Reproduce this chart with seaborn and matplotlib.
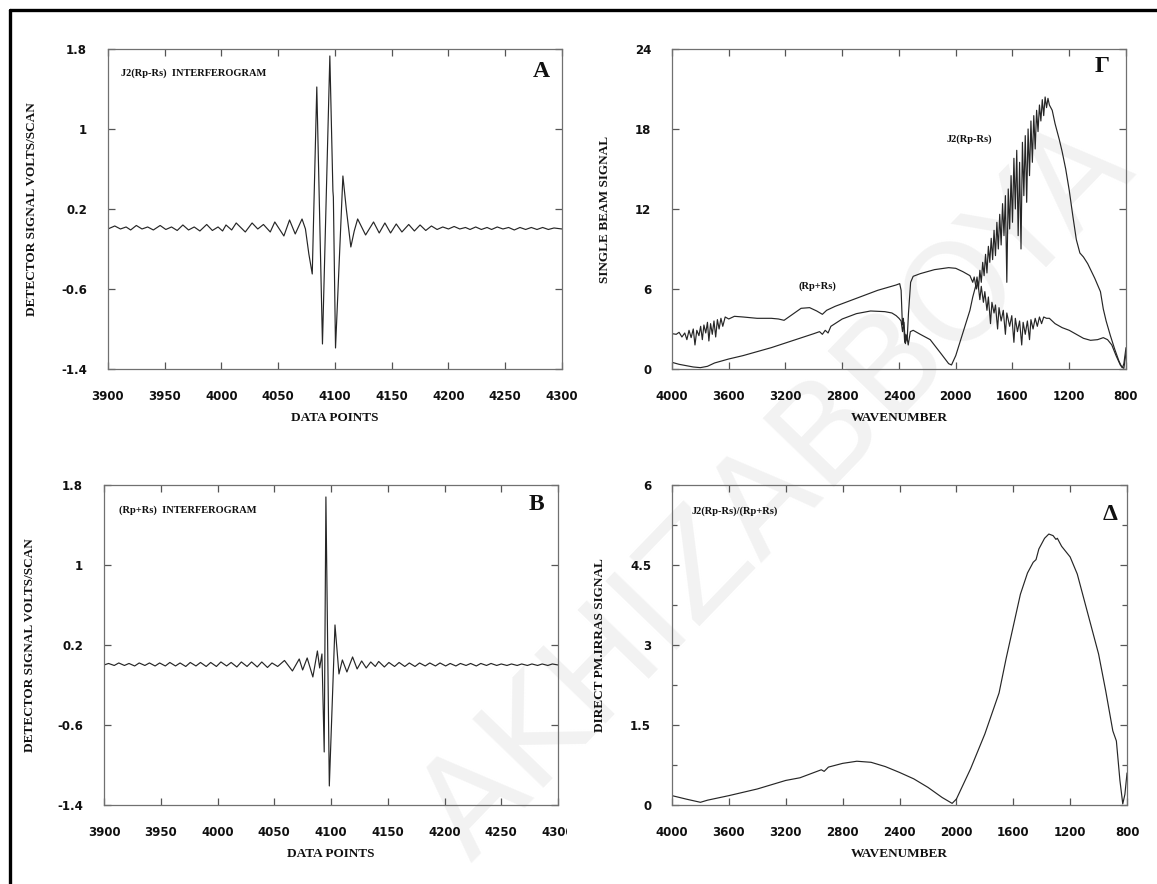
#!/usr/bin/env python3

import matplotlib
matplotlib.use("Agg")
from matplotlib import pyplot as plt
from matplotlib.lines import Line2D
from matplotlib.transforms import Bbox
import pandas as pd
import seaborn as sns


# Panel A: J2(Rp-Rs) interferogram
a_points = [
    3900, 3906, 3911, 3916, 3920, 3925, 3930, 3935, 3940, 3946, 3951, 3956,
    3961, 3966, 3971, 3976, 3981, 3987, 3992, 3997, 4001, 4004, 4009, 4013,
    4021, 4027, 4032, 4037, 4043, 4047, 4055, 4060, 4065, 4071, 4074, 4077,
    4080, 4084, 4089, 4095.5, 4098.2, 4098.6, 4100.5, 4107, 4110, 4114, 4117,
    4120, 4127, 4134, 4139, 4144, 4149, 4154, 4159, 4165, 4170, 4175, 4180,
    4185, 4190, 4195, 4200, 4205, 4210, 4215, 4219, 4224, 4229, 4234, 4238,
    4243, 4248, 4253, 4258, 4263, 4268, 4273, 4278, 4283, 4288, 4293, 4300,
]
a_signal = [
    0.00, 0.03, 0.00, 0.02, -0.01, 0.035, 0.00, 0.02, -0.01, 0.035, -0.005,
    0.02, -0.015, 0.04, -0.01, 0.02, -0.02, 0.045, -0.015, 0.02, -0.02, 0.04,
    -0.01, 0.06, -0.03, 0.06, 0.00, 0.045, -0.03, 0.07, -0.07, 0.09, -0.05,
    0.10, 0.00, -0.25, -0.45, 1.42, -1.15, 1.73, 0.38, 0.32, -1.19, 0.53, 0.20,
    -0.18, -0.02, 0.10, -0.06, 0.07, -0.04, 0.06, -0.04, 0.05, -0.03, 0.045,
    -0.02, 0.04, -0.015, 0.03, -0.005, 0.02, 0.00, 0.025, 0.00, 0.015, -0.005,
    0.02, -0.005, 0.015, -0.005, 0.02, 0.00, 0.015, -0.01, 0.015, -0.005,
    0.015, -0.005, 0.015, -0.005, 0.01, 0.00,
]

# Panel B: (Rp+Rs) interferogram
b_points = [
    3900, 3904, 3909, 3913, 3918, 3922, 3927, 3931, 3936, 3940, 3945, 3949,
    3954, 3958, 3963, 3967, 3972, 3976, 3981, 3985, 3990, 3994, 3999, 4003,
    4008, 4012, 4017, 4021, 4026, 4030, 4035, 4039, 4044, 4048, 4053, 4059,
    4066, 4072, 4075, 4079, 4084, 4088, 4090, 4092, 4094, 4095.5, 4098.5,
    4103.5, 4107, 4110, 4114, 4119, 4123, 4127, 4131, 4135, 4139, 4142, 4147,
    4151, 4156, 4160, 4165, 4169, 4174, 4178, 4183, 4187, 4192, 4196, 4201,
    4205, 4210, 4214, 4219, 4223, 4228, 4232, 4237, 4241, 4246, 4250, 4255,
    4259, 4264, 4268, 4273, 4277, 4282, 4286, 4291, 4295, 4300,
]
b_signal = [
    0.00, 0.015, -0.005, 0.02, -0.005, 0.015, -0.01, 0.02, -0.005, 0.02,
    -0.01, 0.02, -0.01, 0.025, -0.01, 0.02, -0.015, 0.025, -0.01, 0.025,
    -0.015, 0.025, -0.015, 0.03, -0.01, 0.025, -0.02, 0.03, -0.015, 0.03,
    -0.02, 0.03, -0.025, 0.02, -0.015, 0.045, -0.06, 0.06, -0.05, 0.07, -0.12,
    0.14, -0.03, 0.11, -0.87, 1.68, -1.21, 0.40, -0.09, 0.05, -0.07, 0.08,
    -0.04, 0.04, -0.03, 0.03, -0.015, 0.035, -0.02, 0.025, -0.015, 0.025,
    -0.015, 0.02, -0.015, 0.02, -0.01, 0.02, -0.01, 0.02, -0.01, 0.015, -0.01,
    0.015, -0.005, 0.015, -0.01, 0.015, -0.005, 0.015, -0.005, 0.01, -0.005,
    0.01, -0.005, 0.01, -0.005, 0.01, -0.005, 0.01, -0.005, 0.01, 0.00,
]

# Panel Gamma: (Rp+Rs) single beam spectrum
g_sum_wn = [
    4000, 3970, 3950, 3930, 3910, 3895, 3880, 3865, 3850, 3838, 3825, 3810,
    3798, 3786, 3775, 3762, 3750, 3740, 3728, 3716, 3704, 3692, 3680, 3668,
    3655, 3642, 3625, 3600, 3560, 3500, 3400, 3300, 3250, 3210, 3150, 3090,
    3030, 2980, 2940, 2910, 2850, 2700, 2550, 2420, 2395, 2385, 2376, 2369,
    2360, 2352, 2343, 2333, 2318, 2300, 2250, 2150, 2050, 2000, 1950, 1900,
    1880, 1870, 1855, 1845, 1830, 1820, 1805, 1795, 1780, 1770, 1755, 1745,
    1730, 1720, 1705, 1695, 1680, 1665, 1650, 1640, 1620, 1605, 1590, 1580,
    1565, 1550, 1535, 1525, 1510, 1495, 1480, 1470, 1455, 1440, 1425, 1410,
    1395, 1380, 1360, 1340, 1300, 1250, 1200, 1150, 1100, 1050, 1000, 960,
    930, 900, 870, 840, 825, 815, 800,
]
g_sum_val = [
    2.65, 2.6, 2.75, 2.4, 2.7, 2.2, 2.9, 2.35, 3.0, 1.8, 2.9, 2.5, 3.2, 2.2,
    3.3, 2.7, 3.5, 2.1, 3.4, 2.6, 3.6, 2.4, 3.7, 3.0, 3.8, 3.2, 3.9, 3.75,
    3.95, 3.9, 3.8, 3.8, 3.75, 3.65, 4.1, 4.55, 4.6, 4.35, 4.1, 4.4, 4.7, 5.3,
    5.9, 6.3, 6.4, 5.9, 3.3, 3.8, 2.0, 2.6, 2.1, 4.2, 6.5, 6.95, 7.15, 7.45,
    7.6, 7.55, 7.3, 7.0, 6.5, 6.9, 6.0, 6.6, 5.2, 6.2, 5.0, 5.8, 4.4, 5.4,
    3.4, 5.0, 4.2, 4.8, 3.0, 4.6, 3.6, 4.4, 2.6, 4.2, 3.2, 4.0, 2.0, 3.8, 2.8,
    3.6, 1.8, 3.5, 2.6, 3.6, 2.2, 3.7, 3.0, 3.8, 3.2, 3.9, 3.4, 3.9, 3.8, 3.8,
    3.4, 3.1, 2.9, 2.6, 2.3, 2.15, 2.2, 2.35, 2.2, 1.8, 1.0, 0.3, 0.1, 0.4, 1.6,
]

# Panel Gamma: J2(Rp-Rs) single beam spectrum
g_diff_wn = [
    4000, 3950, 3900, 3850, 3800, 3750, 3700, 3600, 3500, 3400, 3300, 3200,
    3100, 3000, 2960, 2940, 2920, 2900, 2880, 2800, 2700, 2600, 2500, 2450,
    2420, 2400, 2385, 2375, 2365, 2355, 2345, 2335, 2320, 2300, 2250, 2180,
    2100, 2050, 2030, 2000, 1950, 1900, 1880, 1860, 1850, 1840, 1830, 1820,
    1810, 1800, 1790, 1780, 1770, 1760, 1750, 1740, 1730, 1720, 1710, 1700,
    1690, 1680, 1670, 1660, 1650, 1640, 1630, 1620, 1610, 1600, 1590, 1580,
    1570, 1560, 1550, 1540, 1530, 1520, 1510, 1500, 1490, 1480, 1470, 1460,
    1450, 1440, 1430, 1420, 1410, 1400, 1390, 1380, 1370, 1360, 1350, 1340,
    1320, 1300, 1270, 1250, 1225, 1200, 1175, 1150, 1125, 1100, 1070, 1020,
    980, 960, 940, 910, 880, 850, 830, 815, 800,
]
g_diff_val = [
    0.5, 0.35, 0.25, 0.15, 0.1, 0.2, 0.45, 0.75, 1.0, 1.3, 1.6, 1.95, 2.3,
    2.65, 2.8, 2.6, 2.9, 2.7, 3.2, 3.75, 4.15, 4.35, 4.3, 4.2, 4.0, 3.8, 3.6,
    2.8, 3.5, 1.9, 2.5, 1.8, 2.8, 2.9, 2.6, 2.2, 1.1, 0.4, 0.3, 1.0, 2.7, 4.4,
    5.4, 6.2, 6.9, 6.0, 7.4, 6.5, 8.0, 7.0, 8.6, 7.2, 9.2, 8.0, 9.8, 8.2, 10.4,
    8.5, 11.0, 9.0, 11.6, 9.3, 12.4, 10.0, 13.0, 6.5, 13.5, 10.5, 14.5, 11.0,
    15.8, 12.0, 16.4, 10.0, 15.5, 9.0, 17.0, 13.0, 17.5, 12.5, 18.0, 14.5,
    18.6, 15.5, 19.0, 16.5, 19.4, 17.8, 19.8, 18.6, 20.2, 19.0, 20.4, 19.6,
    20.3, 19.8, 19.4, 18.4, 17.2, 16.3, 15.0, 13.4, 11.5, 9.7, 8.7, 8.4, 7.9,
    6.8, 5.8, 4.5, 3.6, 2.5, 1.5, 0.6, 0.15, 0.05, 1.2,
]

# Panel Delta: direct PM-IRRAS ratio
d_wn = [
    4000, 3900, 3800, 3750, 3600, 3400, 3200, 3100, 3000, 2950, 2930, 2900,
    2800, 2700, 2600, 2500, 2400, 2300, 2200, 2100, 2030, 2000, 1900, 1800,
    1700, 1650, 1600, 1550, 1500, 1460, 1440, 1420, 1380, 1350, 1320, 1300,
    1290, 1260, 1230, 1200, 1150, 1100, 1000, 950, 900, 875, 850, 830, 815,
    800,
]
d_ratio = [
    0.175, 0.11, 0.05, 0.09, 0.175, 0.30, 0.46, 0.51, 0.61, 0.66, 0.63, 0.71,
    0.78, 0.82, 0.80, 0.72, 0.61, 0.49, 0.33, 0.14, 0.03, 0.11, 0.68, 1.33,
    2.1, 2.75, 3.35, 3.95, 4.35, 4.55, 4.6, 4.8, 5.0, 5.08, 5.05, 4.98, 5.0,
    4.85, 4.75, 4.65, 4.33, 3.83, 2.83, 2.14, 1.39, 1.2, 0.46, 0.02, 0.2, 0.6,
]

interf_ticks = [3900, 3950, 4000, 4050, 4100, 4150, 4200, 4250, 4300]
interf_yticks = [1.8, 1.0, 0.2, -0.6, -1.4]
interf_ylabels = ["1.8", "1", "0.2", "-0.6", "-1.4"]
wn_ticks = [4000, 3600, 3200, 2800, 2400, 2000, 1600, 1200, 800]
g_yticks = [0, 6, 12, 18, 24]
d_yticks = [0, 1.5, 3, 4.5, 6]
d_ylabels = ["0", "1.5", "3", "4.5", "6"]

LINE = "#262626"
SERIF = "Liberation Serif"


def style_axes(ax, xticks, yticks, ylabels=None):
    ax.set_facecolor("none")
    for s in ax.spines.values():
        s.set_color("#707070")
        s.set_linewidth(0.9)
    ax.set_xticks(xticks, [str(t) for t in xticks],
                  fontweight="bold", fontsize=8.5)
    if ylabels is None:
        ylabels = [str(t) for t in yticks]
    ax.set_yticks(yticks, ylabels, fontweight="bold", fontsize=8.5)
    ax.tick_params(which="both", direction="in", top=True, right=True,
                   color="#555555", width=0.9, pad=15, labelcolor="#111111")
    ax.tick_params(which="major", length=5)
    ax.tick_params(which="minor", length=3.5)
    ax.set_xlabel("")
    ax.set_ylabel("")


def main():
    sns.set_theme(style="ticks")
    plt.rcParams["font.family"] = ["DejaVu Sans"]

    fig = plt.figure(figsize=(11.57, 8.84), dpi=100)
    ax_a = fig.add_axes([0.0933, 0.5826, 0.3924, 0.362])
    ax_g = fig.add_axes([0.5808, 0.5826, 0.3924, 0.362])
    ax_b = fig.add_axes([0.0899, 0.0894, 0.3924, 0.362])
    ax_d = fig.add_axes([0.5808, 0.0894, 0.3933, 0.362])

    df_a = pd.DataFrame({"x": a_points, "y": a_signal})
    df_b = pd.DataFrame({"x": b_points, "y": b_signal})
    df_gs = pd.DataFrame({"x": g_sum_wn, "y": g_sum_val})
    df_gd = pd.DataFrame({"x": g_diff_wn, "y": g_diff_val})
    df_d = pd.DataFrame({"x": d_wn, "y": d_ratio})

    kw = dict(x="x", y="y", color=LINE, linewidth=0.85, sort=False,
              estimator=None)
    sns.lineplot(df_a, ax=ax_a, **kw)
    sns.lineplot(df_b, ax=ax_b, **kw)
    sns.lineplot(df_gs, ax=ax_g, **kw)
    sns.lineplot(df_gd, ax=ax_g, **kw)
    sns.lineplot(df_d, ax=ax_d, **kw)

    # interferograms
    for ax in (ax_a, ax_b):
        style_axes(ax, interf_ticks, interf_yticks, interf_ylabels)
        ax.set_xlim(3900, 4300)
        ax.set_ylim(-1.4, 1.8)

    # spectra, wavenumber decreasing to the right
    style_axes(ax_g, wn_ticks, g_yticks)
    ax_g.set_xlim(4000, 800)
    ax_g.set_ylim(0, 24)
    style_axes(ax_d, wn_ticks, d_yticks, d_ylabels)
    ax_d.set_xlim(4000, 800)
    ax_d.set_ylim(0, 6)
    ax_d.set_yticks([0.75, 2.25, 3.75, 5.25], minor=True)

    lab = dict(fontfamily=SERIF, fontweight="bold", fontsize=9.5,
               color="#111111")
    for ax, xl, yl, yx in (
            (ax_a, "DATA POINTS", "DETECTOR SIGNAL VOLTS/SCAN", -0.154),
            (ax_b, "DATA POINTS", "DETECTOR SIGNAL VOLTS/SCAN", -0.150),
            (ax_g, "WAVENUMBER", "SINGLE BEAM SIGNAL", -0.134),
            (ax_d, "WAVENUMBER", "DIRECT PM.IRRAS SIGNAL", -0.145),
            ):
        ax.set_xlabel(xl, **lab)
        ax.set_ylabel(yl, **lab)
        ax.xaxis.set_label_coords(0.5, -0.135)
        ax.yaxis.set_label_coords(yx, 0.5)

    small = dict(fontfamily=SERIF, fontweight="bold", fontsize=7.5,
                 color="#111111")
    big = dict(fontfamily=SERIF, fontweight="bold", fontsize=17,
               color="#111111", ha="center", va="center")
    ax_a.text(0.029, 0.925, "J2(Rp-Rs)  INTERFEROGRAM",
              transform=ax_a.transAxes, va="center", **small)
    ax_a.text(0.955, 0.93, "A", transform=ax_a.transAxes, **big)
    ax_b.text(0.033, 0.922, "(Rp+Rs)  INTERFEROGRAM",
              transform=ax_b.transAxes, va="center", **small)
    ax_b.text(0.953, 0.938, "B", transform=ax_b.transAxes, **big)
    ax_g.text(0.656, 0.718, "J2(Rp-Rs)", transform=ax_g.transAxes,
              ha="center", va="center", **small)
    ax_g.text(0.321, 0.26, "(Rp+Rs)", transform=ax_g.transAxes,
              ha="center", va="center", **small)
    ax_g.text(0.947, 0.946, "Γ", transform=ax_g.transAxes, **big)
    ax_d.text(0.044, 0.917, "J2(Rp-Rs)/(Rp+Rs)", transform=ax_d.transAxes,
              va="center", **small)
    ax_d.text(0.962, 0.909, "Δ", transform=ax_d.transAxes, **big)

    # the scan cuts the last tick label of panel B
    fig.canvas.draw()
    clip = Bbox([[0, 0], [567, 884]])
    last = ax_b.get_xticklabels()[-1]
    last.set_clip_box(clip)
    last.set_clip_on(True)

    # faint diagonal watermark behind the plots
    fig.text(0.672, 0.445, "AKHIZABBOYA", rotation=46, fontsize=98,
             color="#f2f2f2", ha="center", va="center", zorder=-5)

    # page frame on the left and top
    fig.add_artist(Line2D([10 / 1157, 10 / 1157], [0, 1 - 10 / 884],
                          color="black", linewidth=2.4))
    fig.add_artist(Line2D([10 / 1157, 1], [1 - 10 / 884, 1 - 10 / 884],
                          color="black", linewidth=2.4))

    fig.savefig("out.png", dpi=100)


if __name__ == "__main__":
    main()
